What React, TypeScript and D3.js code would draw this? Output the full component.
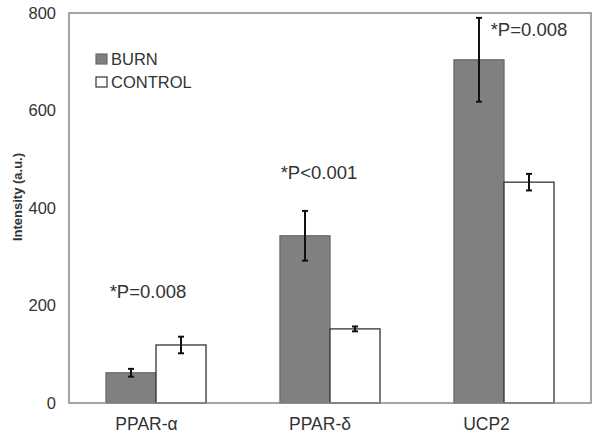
import React from "react";
import * as d3 from "d3";

const categories = ["PPAR-α", "PPAR-δ", "UCP2"];
const series = ["BURN", "CONTROL"];
const burnValues = [62, 343, 704];
const burnErrors = [8, 51, 86];
const controlValues = [119, 152, 453];
const controlErrors = [17, 5, 17];
const pLabels = ["*P=0.008", "*P<0.001", "*P=0.008"];
const yTicks = [0, 200, 400, 600, 800];

const W = 600;
const H = 438;
const M = { left: 69, right: 9, top: 13, bottom: 35 };

export default function App() {
  const x = d3
    .scaleBand<string>()
    .domain(categories)
    .range([M.left, W - M.right])
    .paddingInner(0.425)
    .paddingOuter(0.2125);
  const xs = d3.scaleBand<string>().domain(series).range([0, x.bandwidth()]);
  const y = d3.scaleLinear().domain([0, 800]).range([H - M.bottom, M.top]);
  const fills = ["#808080", "#ffffff"];
  const vals = [burnValues, controlValues];
  const errs = [burnErrors, controlErrors];
  const font = "'Liberation Sans', Arial, sans-serif";
  const pPos = [
    { dx: -8, yy: 298 },
    { dx: -11, yy: 179 },
    { dx: 25, yy: 36 },
  ];
  const labelDx = [-9.5, -10, -17.5];
  return (
    <svg
      width={W}
      height={H}
      style={{ position: "absolute", left: 0, top: 0, background: "#fff" }}
      fontFamily={font}
    >
      <rect x={0} y={0} width={W} height={H} fill="#fff" />
      {categories.map((c, i) =>
        series.map((s, j) => {
          const bx = (x(c) as number) + (xs(s) as number);
          const v = vals[j][i];
          return (
            <rect
              key={c + s}
              x={bx}
              y={y(v)}
              width={xs.bandwidth()}
              height={y(0) - y(v)}
              fill={fills[j]}
              stroke={j === 0 ? "#6a6a6a" : "#333"}
              strokeWidth={1.3}
            />
          );
        })
      )}
      {categories.map((c, i) =>
        series.map((s, j) => {
          const cx = (x(c) as number) + (xs(s) as number) + xs.bandwidth() / 2;
          const v = vals[j][i];
          const e = errs[j][i];
          return (
            <g key={"e" + c + s} stroke="#111" strokeWidth={2}>
              <line x1={cx} x2={cx} y1={y(v + e)} y2={y(v - e)} />
              <line x1={cx - 3} x2={cx + 3} y1={y(v + e)} y2={y(v + e)} />
              <line x1={cx - 3} x2={cx + 3} y1={y(v - e)} y2={y(v - e)} />
            </g>
          );
        })
      )}
      <rect
        x={M.left}
        y={M.top}
        width={W - M.left - M.right}
        height={H - M.top - M.bottom}
        fill="none"
        stroke="#888"
        strokeWidth={1.5}
      />
      {yTicks.map((t) => (
        <text
          key={t}
          x={56}
          y={y(t)}
          dy="0.35em"
          textAnchor="end"
          fontSize={16.5}
          fill="#333"
        >
          {t}
        </text>
      ))}
      {categories.map((c, i) => (
        <text
          key={"l" + c}
          x={(x(c) as number) + x.bandwidth() / 2 + labelDx[i]}
          y={429.5}
          textAnchor="middle"
          fontSize={17.5}
          fill="#333"
        >
          {c}
        </text>
      ))}
      {categories.map((c, i) => (
        <text
          key={"p" + c}
          x={(x(c) as number) + x.bandwidth() / 2 + pPos[i].dx}
          y={pPos[i].yy}
          textAnchor="middle"
          fontSize={18.5}
          fill="#333"
        >
          {pLabels[i]}
        </text>
      ))}
      <text
        transform={`translate(22,197) rotate(-90)`}
        textAnchor="middle"
        fontSize={13}
        fontWeight="bold"
        fill="#333"
      >
        Intensity (a.u.)
      </text>
      {series.map((s, j) => (
        <g key={"lg" + s}>
          <rect
            x={96}
            y={54 + j * 23}
            width={11}
            height={10}
            fill={fills[j]}
            stroke={j === 0 ? "#6a6a6a" : "#333"}
            strokeWidth={1.2}
          />
          <text x={111} y={64.5 + j * 23} fontSize={16.5} fill="#333">
            {s}
          </text>
        </g>
      ))}
    </svg>
  );
}
